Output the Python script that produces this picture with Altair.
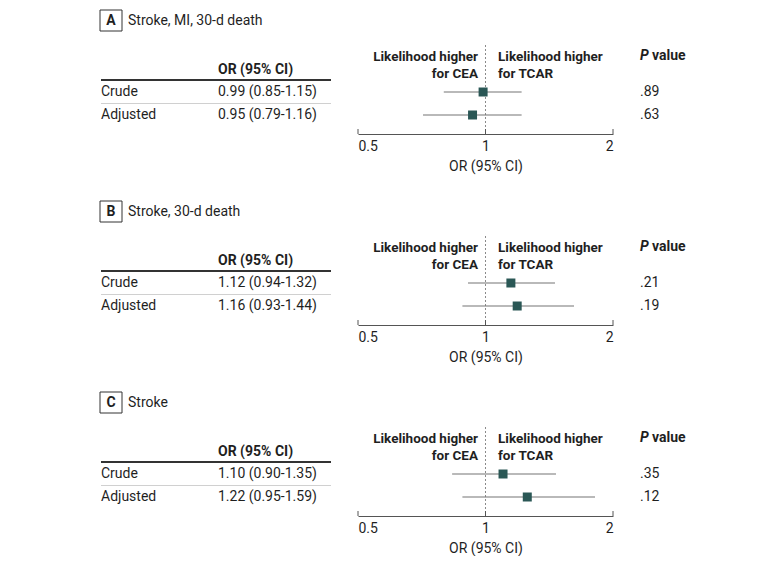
import altair as alt
import pandas as pd

# ---------------- data ----------------
panel_letters = ["A", "B", "C"]
panel_titles = ["Stroke, MI, 30-d death", "Stroke, 30-d death", "Stroke"]
row_labels = ["Crude", "Adjusted"]
or_texts = [
    ["0.99 (0.85-1.15)", "0.95 (0.79-1.16)"],
    ["1.12 (0.94-1.32)", "1.16 (0.93-1.44)"],
    ["1.10 (0.90-1.35)", "1.22 (0.95-1.59)"],
]
p_values = [[".89", ".63"], [".21", ".19"], [".35", ".12"]]
# drawn point estimates and CI ends
est = [[0.987, 0.932], [1.148, 1.188], [1.100, 1.255]]
lo = [[0.797, 0.712], [0.909, 0.882], [0.834, 0.882]]
hi = [[1.217, 1.217], [1.459, 1.618], [1.467, 1.814]]
axis_ticks = [0.5, 1, 2]
ref_value = [1]
header_left = ["Likelihood higher", "for CEA"]
header_right = ["Likelihood higher", "for TCAR"]
table_header = "OR (95% CI)"
axis_title = "OR (95% CI)"

FONT = "Roboto"
TXT = "#1f1f1f"
W, H = 764, 166
AXIS_Y = 126

xscale = alt.Scale(type="log", domain=[0.5, 2], range=[350, 605])
yscale = alt.Scale(domain=[0, 1], range=[84, 107])
Y = alt.Y("row:Q", scale=yscale, axis=None)


def txt(**kw):
    d = dict(font=FONT, fontSize=14, color=TXT, align="left", baseline="middle")
    d.update(kw)
    return d


def panel(i):
    df = pd.DataFrame({
        "row": [0, 1],
        "label": row_labels,
        "ortxt": or_texts[i],
        "p": p_values[i],
        "est": est[i],
        "lo": lo[i],
        "hi": hi[i],
    })
    tdf = pd.DataFrame({"letter": [panel_letters[i]], "title": [panel_titles[i]]})
    hdr = pd.DataFrame({"l": ["\n".join(header_left)], "r": ["\n".join(header_right)],
                        "h": [table_header], "a": ["P"], "b": ["value"]})
    ticks = pd.DataFrame({"t": axis_ticks})
    ref = pd.DataFrame({"r": ref_value})

    base = alt.Chart(df)

    ci = base.mark_rule(color="#747474", strokeWidth=1.2).encode(
        x=alt.X("lo:Q", scale=xscale, axis=alt.Axis(
            values=axis_ticks, labelExpr="format(datum.value, '~g')",
            orient="bottom", offset=AXIS_Y - H, ticks=False, grid=False,
            domainColor="#555555", domainWidth=1,
            labelFont=FONT, labelFontSize=14, labelColor=TXT, labelPadding=5,
            title=axis_title, titleFont=FONT, titleFontSize=14,
            titleFontWeight="normal", titleColor=TXT, titlePadding=6)),
        x2="hi:Q",
        y=Y,
    )
    pts = base.mark_point(shape="square", filled=True, size=81, color="#2a5755", opacity=1).encode(
        x=alt.X("est:Q", scale=xscale), y=Y)
    tick_marks = alt.Chart(ticks).mark_rule(color="#555555", strokeWidth=1).encode(
        x=alt.X("t:Q", scale=xscale),
        y=alt.value(AXIS_Y - 5), y2=alt.value(AXIS_Y),
    )
    ref_line = alt.Chart(ref).mark_rule(color="#8a8a8a", strokeWidth=1, strokeDash=[2, 2]).encode(
        x=alt.X("r:Q", scale=xscale),
        y=alt.value(37), y2=alt.value(AXIS_Y),
    )

    box = alt.Chart(tdf).mark_rect(fill="white", stroke="#333333", strokeWidth=1).encode(
        x=alt.value(92), x2=alt.value(114), y=alt.value(2), y2=alt.value(23))
    letter = alt.Chart(tdf).mark_text(**txt(fontWeight="bold", align="center")).encode(
        x=alt.value(103), y=alt.value(13), text="letter:N")
    title = alt.Chart(tdf).mark_text(**txt()).encode(
        x=alt.value(120), y=alt.value(13), text="title:N")

    thead = alt.Chart(hdr).mark_text(**txt(fontWeight="bold")).encode(
        x=alt.value(210), y=alt.value(62), text="h:N")
    thick = alt.Chart(hdr).mark_rule(color="#333333", strokeWidth=2).encode(
        x=alt.value(93), x2=alt.value(323), y=alt.value(72))
    thin = alt.Chart(hdr).mark_rule(color="#d0d0d0", strokeWidth=1).encode(
        x=alt.value(93), x2=alt.value(323), y=alt.value(95.5))

    lab = base.mark_text(**txt()).encode(x=alt.value(93), y=Y, text="label:N")
    ortx = base.mark_text(**txt()).encode(x=alt.value(210), y=Y, text="ortxt:N")
    pv = base.mark_text(**txt()).encode(x=alt.value(632), y=Y, text="p:N")

    hl_t = alt.Chart(hdr).mark_text(**txt(fontWeight="bold", align="right", lineBreak="\n",
                                          lineHeight=17, fontSize=13.5)).encode(
        x=alt.value(470), y=alt.value(48.5), text="l:N")
    hr_t = alt.Chart(hdr).mark_text(**txt(fontWeight="bold", lineBreak="\n",
                                          lineHeight=17, fontSize=13.5)).encode(
        x=alt.value(490), y=alt.value(48.5), text="r:N")
    p_it = alt.Chart(hdr).mark_text(**txt(fontWeight="bold", fontStyle="italic")).encode(
        x=alt.value(632), y=alt.value(48), text="a:N")
    p_val = alt.Chart(hdr).mark_text(**txt(fontWeight="bold")).encode(
        x=alt.value(644), y=alt.value(48), text="b:N")

    return alt.layer(
        ref_line, tick_marks, ci, pts,
        box, letter, title, thead, thick, thin, lab, ortx, pv,
        hl_t, hr_t, p_it, p_val,
    ).properties(width=W, height=H)


chart = alt.vconcat(*[panel(i) for i in range(3)], spacing=25).properties(
    padding=0, background="white"
).configure_view(stroke=None)

chart.save("out.html", embed_options={"renderer": "svg", "actions": False})
